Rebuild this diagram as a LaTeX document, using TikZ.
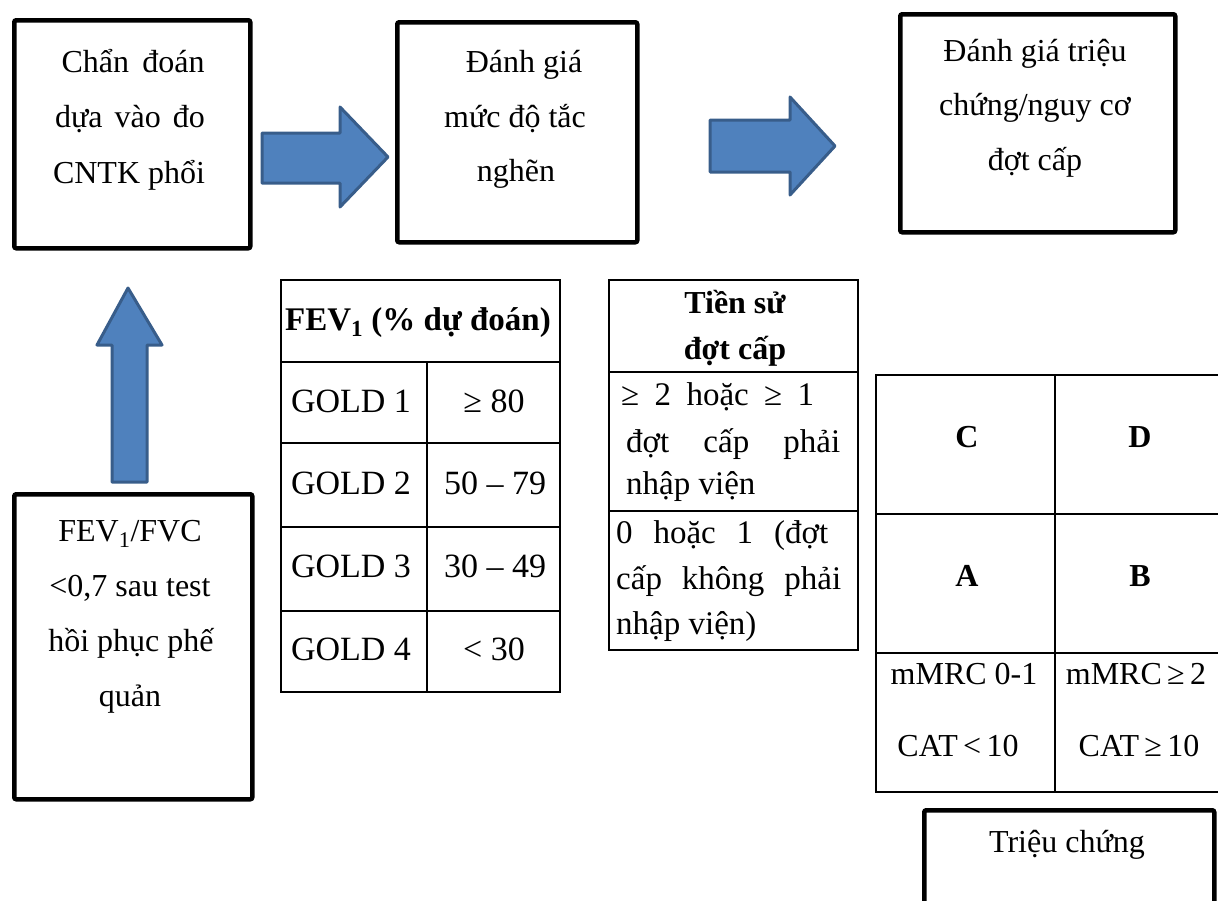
\documentclass[tikz,border=0pt]{standalone}
\usepackage{fontspec}
\setmainfont{Liberation Serif}
\definecolor{arrowfill}{HTML}{4F81BD}
\definecolor{arrowline}{HTML}{385D8A}
\begin{document}
\begin{tikzpicture}[x=1pt,y=-1pt,
  box/.style={draw,line width=4.5pt,rounded corners=2pt,inner sep=0pt,anchor=north west},
  blockarrow/.style={fill=arrowfill,draw=arrowline,line width=3pt,line join=round},
  grid/.style={line width=2pt},
  txt/.style={anchor=base,inner sep=0pt,font=\fontsize{32}{38}\selectfont},
  ttxt/.style={anchor=base,inner sep=0pt,font=\fontsize{34}{40}\selectfont},
  ltxt/.style={anchor=base west,inner sep=0pt,font=\fontsize{33}{40}\selectfont},
  btxt/.style={txt,font=\fontsize{32}{38}\selectfont\bfseries},
]
\useasboundingbox (0,0) rectangle (1218,900);
\clip (0,0) rectangle (1218,900);

% boxes
\node[box,minimum width=236pt,minimum height=228pt] (b1) at (12,18) {};
\node[box,minimum width=240pt,minimum height=220pt] (b2) at (395,20) {};
\node[box,minimum width=275pt,minimum height=218pt] (b3) at (898,12) {};
\node[box,minimum width=238pt,minimum height=305pt] (b4) at (12,492) {};
\node[box,minimum width=290pt,minimum height=120pt] (b5) at (922,808) {};

% box texts
\node[txt] (b1a) at (133,72) {\makebox[143pt][s]{Chẩn đoán}};
\node[txt] (b1b) at (130,127) {\makebox[150pt][s]{dựa vào đo}};
\node[txt] (b1c) at (129,183) {CNTK phổi};

\node[txt] (b2a) at (524,72) {Đánh giá};
\node[txt] (b2b) at (515,127) {mức độ tắc};
\node[txt] (b2c) at (516,181) {nghẽn};

\node[txt] (b3a) at (1035,61) {Đánh giá triệu};
\node[txt] (b3b) at (1035,115) {chứng/nguy cơ};
\node[txt] (b3c) at (1035,170) {đợt cấp};

\node[txt] (b4a) at (130,541) {FEV\textsubscript{1}/FVC};
\node[txt] (b4b) at (130,596) {<0,7 sau test};
\node[txt] (b4c) at (131,651) {hồi phục phế};
\node[txt] (b4d) at (130,706) {quản};

\node[txt] (b5a) at (1067,852) {Triệu chứng};

% block arrows
\draw[blockarrow] (262,133) -- (340,133) -- (340,107) -- (388,157) -- (340,207) -- (340,183) -- (262,183) -- cycle;
\draw[blockarrow] (710,120) -- (790,120) -- (790,97) -- (835,146) -- (790,195) -- (790,172) -- (710,172) -- cycle;
\draw[blockarrow] (112,482) -- (112,345) -- (97,345) -- (128,288) -- (162,345) -- (147,345) -- (147,482) -- cycle;

% FEV1 table
\draw[grid] (281,280) rectangle (560,692);
\foreach \yy in {362,443,527,611} \draw[grid] (281,\yy) -- (560,\yy);
\draw[grid] (427,362) -- (427,692);
\node[btxt,font=\fontsize{33}{38}\selectfont\bfseries] (fh) at (418,330) {FEV\textsubscript{1} (\% dự đoán)};
\node[ttxt] (g1) at (351,412) {GOLD 1};
\node[ttxt] (v1) at (494,412) {≥ 80};
\node[ttxt] (g2) at (351,494) {GOLD 2};
\node[ttxt] (v2) at (495,494) {50 – 79};
\node[ttxt] (g3) at (351,577) {GOLD 3};
\node[ttxt] (v3) at (495,577) {30 – 49};
\node[ttxt] (g4) at (351,660) {GOLD 4};
\node[ttxt] (v4) at (494,660) {< 30};

% exacerbation history table
\draw[grid] (609,280) rectangle (858,650);
\draw[grid] (609,372) -- (858,372);
\draw[grid] (609,511) -- (858,511);
\node[btxt] (th1) at (735,313) {Tiền sử};
\node[btxt] (th2) at (735,359) {đợt cấp};
\node[ltxt] (r1a) at (621,405) {\makebox[193pt][s]{≥ 2 hoặc ≥ 1}};
\node[ltxt] (r1b) at (626,452) {\makebox[214pt][s]{đợt cấp phải}};
\node[ltxt] (r1c) at (626,494) {nhập viện};
\node[ltxt] (r2a) at (616,543) {\makebox[212pt][s]{0 hoặc 1 (đợt}};
\node[ltxt] (r2b) at (616,589) {\makebox[225pt][s]{cấp không phải}};
\node[ltxt] (r2c) at (616,634) {nhập viện)};

% ABCD table
\draw[grid] (876,375) rectangle (1224,792);
\draw[grid] (876,514) -- (1224,514);
\draw[grid] (876,653) -- (1224,653);
\draw[grid] (1055,375) -- (1055,792);
\node[btxt] (qc) at (967,447) {C};
\node[btxt] (qd) at (1140,447) {D};
\node[btxt] (qa) at (967,586) {A};
\node[btxt] (qb) at (1140,586) {B};
\node[txt] (m1) at (964,684) {mMRC 0-1};
\node[txt] (m2) at (1136,684) {mMRC\,≥\,2};
\node[txt] (c1) at (958,756) {CAT\,<\,10};
\node[txt] (c2) at (1139,756) {CAT\,≥\,10};
\end{tikzpicture}
\end{document}
